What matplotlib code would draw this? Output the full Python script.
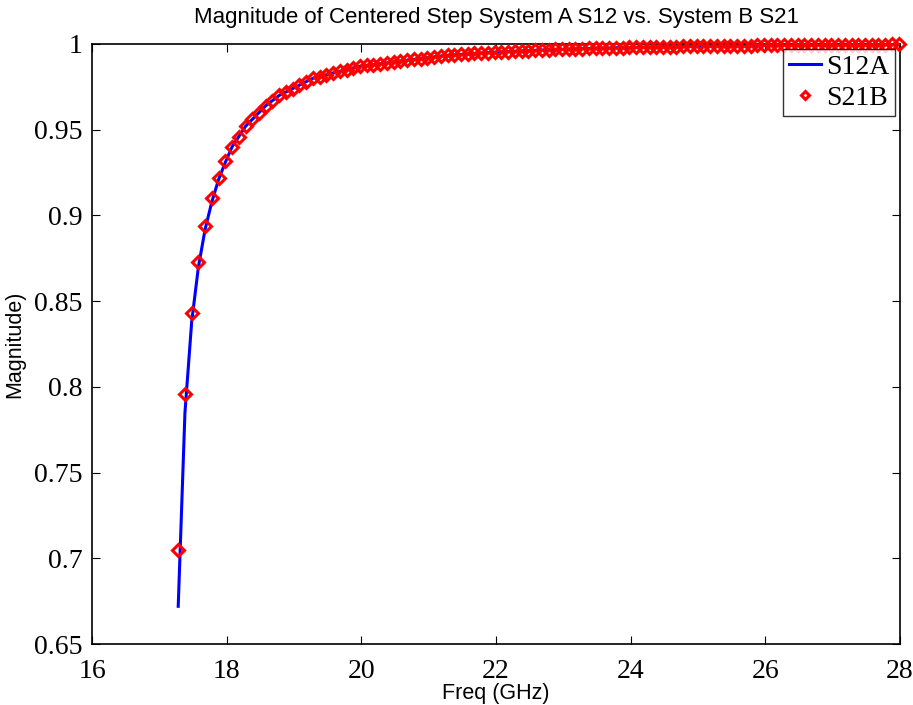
import numpy as np
import matplotlib
matplotlib.use("Agg")
import matplotlib.pyplot as plt

# Frequency grid (GHz), 0.1 GHz sampling
freq = np.round(np.arange(17.28, 28.0, 0.1), 2)

# System B S21 magnitude (markers)
s21b = [
    0.705, 0.796, 0.843, 0.873, 0.894, 0.910, 0.922, 0.932, 0.940, 0.946,
    0.952, 0.956, 0.960, 0.964, 0.967, 0.970, 0.972, 0.974, 0.976, 0.978,
    0.980, 0.981, 0.982, 0.983, 0.984, 0.985, 0.986, 0.987, 0.9875, 0.988,
    0.9885, 0.989, 0.9895, 0.990, 0.9905, 0.991, 0.9915, 0.992, 0.9925, 0.9930,
    0.9933, 0.9936, 0.9939, 0.9942, 0.9945, 0.9948, 0.9950, 0.9952, 0.9954, 0.9956,
    0.9958, 0.9960, 0.9961, 0.9963, 0.9965, 0.9966, 0.9968, 0.9969, 0.9970, 0.9972,
    0.9973, 0.9974, 0.9975, 0.9976, 0.9977, 0.9978, 0.9979, 0.9980, 0.9981, 0.9982,
    0.9982, 0.9983, 0.9984, 0.9985, 0.9985, 0.9986, 0.9987, 0.9987, 0.9988, 0.9988,
    0.9989, 0.9989, 0.9990, 0.9990, 0.9991, 0.9991, 0.9992, 0.9992, 0.9992, 0.9993,
    0.9993, 0.9993, 0.9994, 0.9994, 0.9994, 0.9995, 0.9995, 0.9995, 0.9996, 0.9996,
    0.9996, 0.9996, 0.9997, 0.9997, 0.9997, 0.9997, 0.9998, 0.9998,
]

# System A S12 magnitude (line)
s12a = [
    0.672, 0.785, 0.838, 0.870, 0.892, 0.908, 0.921, 0.931, 0.940, 0.946,
    0.952, 0.956, 0.960, 0.964, 0.967, 0.970, 0.972, 0.974, 0.976, 0.978,
    0.980, 0.981, 0.982, 0.983, 0.984, 0.985, 0.986, 0.987, 0.9875, 0.988,
    0.9885, 0.989, 0.9895, 0.990, 0.9905, 0.991, 0.9915, 0.992, 0.9925, 0.9930,
    0.9933, 0.9936, 0.9939, 0.9942, 0.9945, 0.9948, 0.9950, 0.9952, 0.9954, 0.9956,
    0.9958, 0.9960, 0.9961, 0.9963, 0.9965, 0.9966, 0.9968, 0.9969, 0.9970, 0.9972,
    0.9973, 0.9974, 0.9975, 0.9976, 0.9977, 0.9978, 0.9979, 0.9980, 0.9981, 0.9982,
    0.9982, 0.9983, 0.9984, 0.9985, 0.9985, 0.9986, 0.9987, 0.9987, 0.9988, 0.9988,
    0.9989, 0.9989, 0.9990, 0.9990, 0.9991, 0.9991, 0.9992, 0.9992, 0.9992, 0.9993,
    0.9993, 0.9993, 0.9994, 0.9994, 0.9994, 0.9995, 0.9995, 0.9995, 0.9996, 0.9996,
    0.9996, 0.9996, 0.9997, 0.9997, 0.9997, 0.9997, 0.9998, 0.9998,
]

xticks = [16, 18, 20, 22, 24, 26, 28]
xticklabels = ["16", "18", "20", "22", "24", "26", "28"]
yticks = [0.65, 0.7, 0.75, 0.8, 0.85, 0.9, 0.95, 1.0]
yticklabels = ["0.65", "0.7", "0.75", "0.8", "0.85", "0.9", "0.95", "1"]

title = "Magnitude of Centered Step System A S12 vs. System B S21"
xlabel = "Freq (GHz)"
ylabel = "Magnitude)"

fig = plt.figure(figsize=(9.13, 7.05), dpi=100)
ax = fig.add_axes([0.1008, 0.0865, 0.8850, 0.8511])

ax.plot(freq, s12a, color=(0, 0, 1), lw=2.2, label="S12A", zorder=2)
ax.plot(freq, s21b, linestyle="none", marker="D", ms=6.3, mfc="none",
        mec=(1, 0, 0), mew=2.2, label="S21B", zorder=3, clip_on=False)

ax.set_xlim(16, 28)
ax.set_ylim(0.65, 1.0)
ax.set_xticks(xticks)
ax.set_xticklabels(xticklabels)
ax.set_yticks(yticks)
ax.set_yticklabels(yticklabels)

serif = ["Liberation Serif", "DejaVu Serif"]
sans = ["Liberation Sans", "DejaVu Sans"]
for lab in ax.get_xticklabels() + ax.get_yticklabels():
    lab.set_family(serif)
    lab.set_fontsize(20)

ax.tick_params(direction="in", length=6, width=0.8, top=True, right=True,
               colors="black")
ax.tick_params(axis="y", pad=7)
ax.tick_params(axis="x", pad=11)
for sp in ax.spines.values():
    sp.set_linewidth(1.2)
    sp.set_color("black")

ax.set_title(title, family=sans, fontsize=16, pad=15)
ax.set_xlabel(xlabel, family=sans, fontsize=15.5, labelpad=-1)
ax.set_ylabel(ylabel, family=sans, fontsize=15.5, labelpad=6)

leg = ax.legend(loc="upper right", prop={"family": serif, "size": 20},
                frameon=True, fancybox=False, edgecolor="black",
                borderpad=0.2, handlelength=1.15, handletextpad=0.2,
                labelspacing=0.2, borderaxespad=0.17, markerscale=0.7)
leg.get_frame().set_linewidth(1.0)

fig.savefig("out.png", dpi=100)
